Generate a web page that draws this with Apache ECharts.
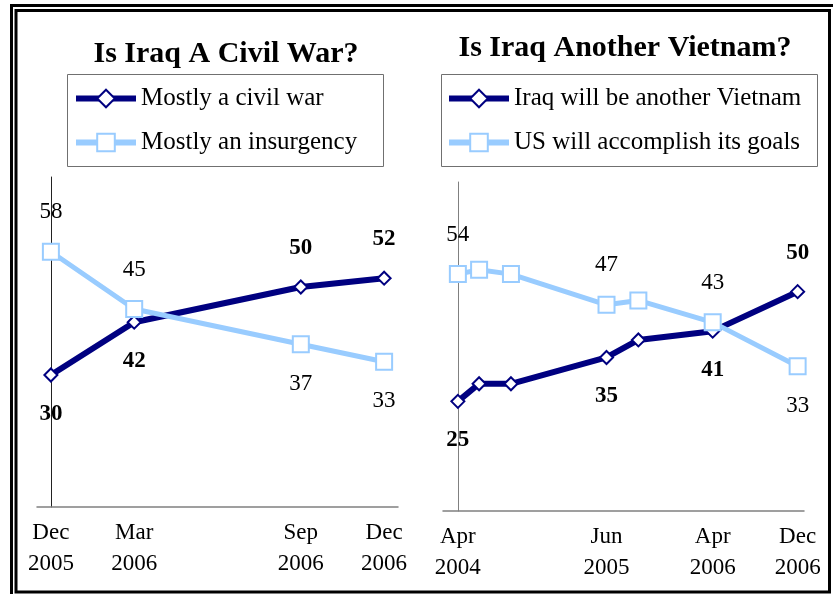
<!DOCTYPE html>
<html>
<head>
<meta charset="utf-8">
<title>Iraq polls</title>
<script src="https://cdn.jsdelivr.net/npm/echarts@6/dist/echarts.min.js"></script>
<style>
  html, body { margin: 0; padding: 0; background: #fff; }
  #main { width: 833px; height: 594px; }
</style>
</head>
<body>
<div id="main"></div>
<script>
// left panel: months after Dec 2005
var civilMonths = [0, 3, 9, 12];
var civilWar = [30, 42, 50, 52];
var insurgency = [58, 45, 37, 33];
var civilTicks = [0, 3, 9, 12];
var civilTickLabels = ['Dec\n2005', 'Mar\n2006', 'Sep\n2006', 'Dec\n2006'];

// right panel: months after Apr 2004
var vietMonths = [0, 2, 5, 14, 17, 24, 32];
var anotherVietnam = [25, 29, 29, 35, 39, 41, 50];
var accomplishGoals = [54, 55, 54, 47, 48, 43, 33];
var vietTicks = [0, 14, 24, 32];
var vietTickLabels = ['Apr\n2004', 'Jun\n2005', 'Apr\n2006', 'Dec\n2006'];

var FONT = '"Liberation Serif", "Times New Roman", serif';
var DARK = '#000080';
var LIGHT = '#99ccff';

// label goes above if this line is the higher one at that date
function buildData(xs, vals, other, ticks, bold, dist) {
  return xs.map(function (x, i) {
    return {
      value: [x, vals[i]],
      label: {
        show: ticks.indexOf(x) >= 0,
        position: vals[i] > other[i] ? 'top' : 'bottom',
        distance: dist,
        fontWeight: bold ? 'bold' : 'normal'
      }
    };
  });
}

function tickFormatter(ticks, labels) {
  return function (v) {
    var i = ticks.indexOf(v);
    return i >= 0 ? labels[i] : '';
  };
}

function xAxisFor(idx, min, max, ticks, labels) {
  return {
    type: 'value', gridIndex: idx, min: min, max: max,
    splitLine: { show: false },
    axisTick: { show: false },
    axisLine: { lineStyle: { color: '#808080', width: 1.5 } },
    axisLabel: {
      customValues: ticks,
      formatter: tickFormatter(ticks, labels),
      color: '#000', fontFamily: FONT, fontSize: 23, lineHeight: 31, margin: 10
    }
  };
}

function yAxisFor(idx, color) {
  return {
    type: 'value', gridIndex: idx, min: 0, max: 75,
    splitLine: { show: false },
    axisTick: { show: false },
    axisLabel: { show: false },
    axisLine: { show: true, lineStyle: { color: color, width: 1 } }
  };
}

function lineSeries(name, idx, data, color, symbol, size, width) {
  return {
    name: name, type: 'line', xAxisIndex: idx, yAxisIndex: idx,
    data: data,
    symbol: symbol, symbolSize: size, showAllSymbol: true,
    lineStyle: { color: color, width: width },
    itemStyle: { color: '#fff', borderColor: color, borderWidth: 2 },
    label: { color: '#000', fontFamily: FONT, fontSize: 23 },
    animation: false
  };
}

function legendFor(names, left) {
  return {
    data: names, orient: 'vertical',
    left: left, top: 86, padding: 0, itemWidth: 60, itemHeight: 22, itemGap: 19,
    lineStyle: { width: 6 },
    textStyle: { fontFamily: FONT, fontSize: 25, color: '#000' }
  };
}

var chart = echarts.init(document.getElementById('main'));
chart.setOption({
  animation: false,
  title: [
    { text: 'Is Iraq A Civil War?', left: 221, top: 34, textAlign: 'center',
      textStyle: { fontFamily: FONT, fontSize: 30, fontWeight: 'bold', color: '#000' } },
    { text: 'Is Iraq Another Vietnam?', left: 620, top: 28, textAlign: 'center',
      textStyle: { fontFamily: FONT, fontSize: 30, fontWeight: 'bold', color: '#000' } }
  ],
  legend: [
    legendFor(['Mostly a civil war', 'Mostly an insurgency'], 73),
    legendFor(['Iraq will be another Vietnam', 'US will accomplish its goals'], 446)
  ],
  grid: [
    { left: 37, right: 435, top: 177, bottom: 87 },
    { left: 443, right: 29, top: 182, bottom: 83 }
  ],
  xAxis: [
    xAxisFor(0, -0.5, 12.5, civilTicks, civilTickLabels),
    xAxisFor(1, -1.4, 32.6, vietTicks, vietTickLabels)
  ],
  yAxis: [yAxisFor(0, '#222'), yAxisFor(1, '#808080')],
  series: [
    lineSeries('Mostly a civil war', 0,
      buildData(civilMonths, civilWar, insurgency, civilTicks, true, 20), DARK, 'diamond', 13, 6),
    lineSeries('Mostly an insurgency', 0,
      buildData(civilMonths, insurgency, civilWar, civilTicks, false, 19), LIGHT, 'rect', 16, 5),
    lineSeries('Iraq will be another Vietnam', 1,
      buildData(vietMonths, anotherVietnam, accomplishGoals, vietTicks, true, 20), DARK, 'diamond', 13, 6),
    lineSeries('US will accomplish its goals', 1,
      buildData(vietMonths, accomplishGoals, anotherVietnam, vietTicks, false, 19), LIGHT, 'rect', 16, 5)
  ],
  graphic: [
    // double frame round the whole picture
    { type: 'rect', shape: { x: 11.5, y: 5.5, width: 830, height: 600 },
      style: { fill: null, stroke: '#000', lineWidth: 3 }, silent: true },
    { type: 'rect', shape: { x: 16, y: 10.5, width: 813.5, height: 581.5 },
      style: { fill: null, stroke: '#000', lineWidth: 3 }, silent: true },
    // legend boxes
    { type: 'rect', shape: { x: 67.5, y: 74.5, width: 316, height: 92 },
      style: { fill: null, stroke: '#707070', lineWidth: 1 }, silent: true },
    { type: 'rect', shape: { x: 441.5, y: 74.5, width: 376, height: 92 },
      style: { fill: null, stroke: '#707070', lineWidth: 1 }, silent: true }
  ]
});
</script>
</body>
</html>
